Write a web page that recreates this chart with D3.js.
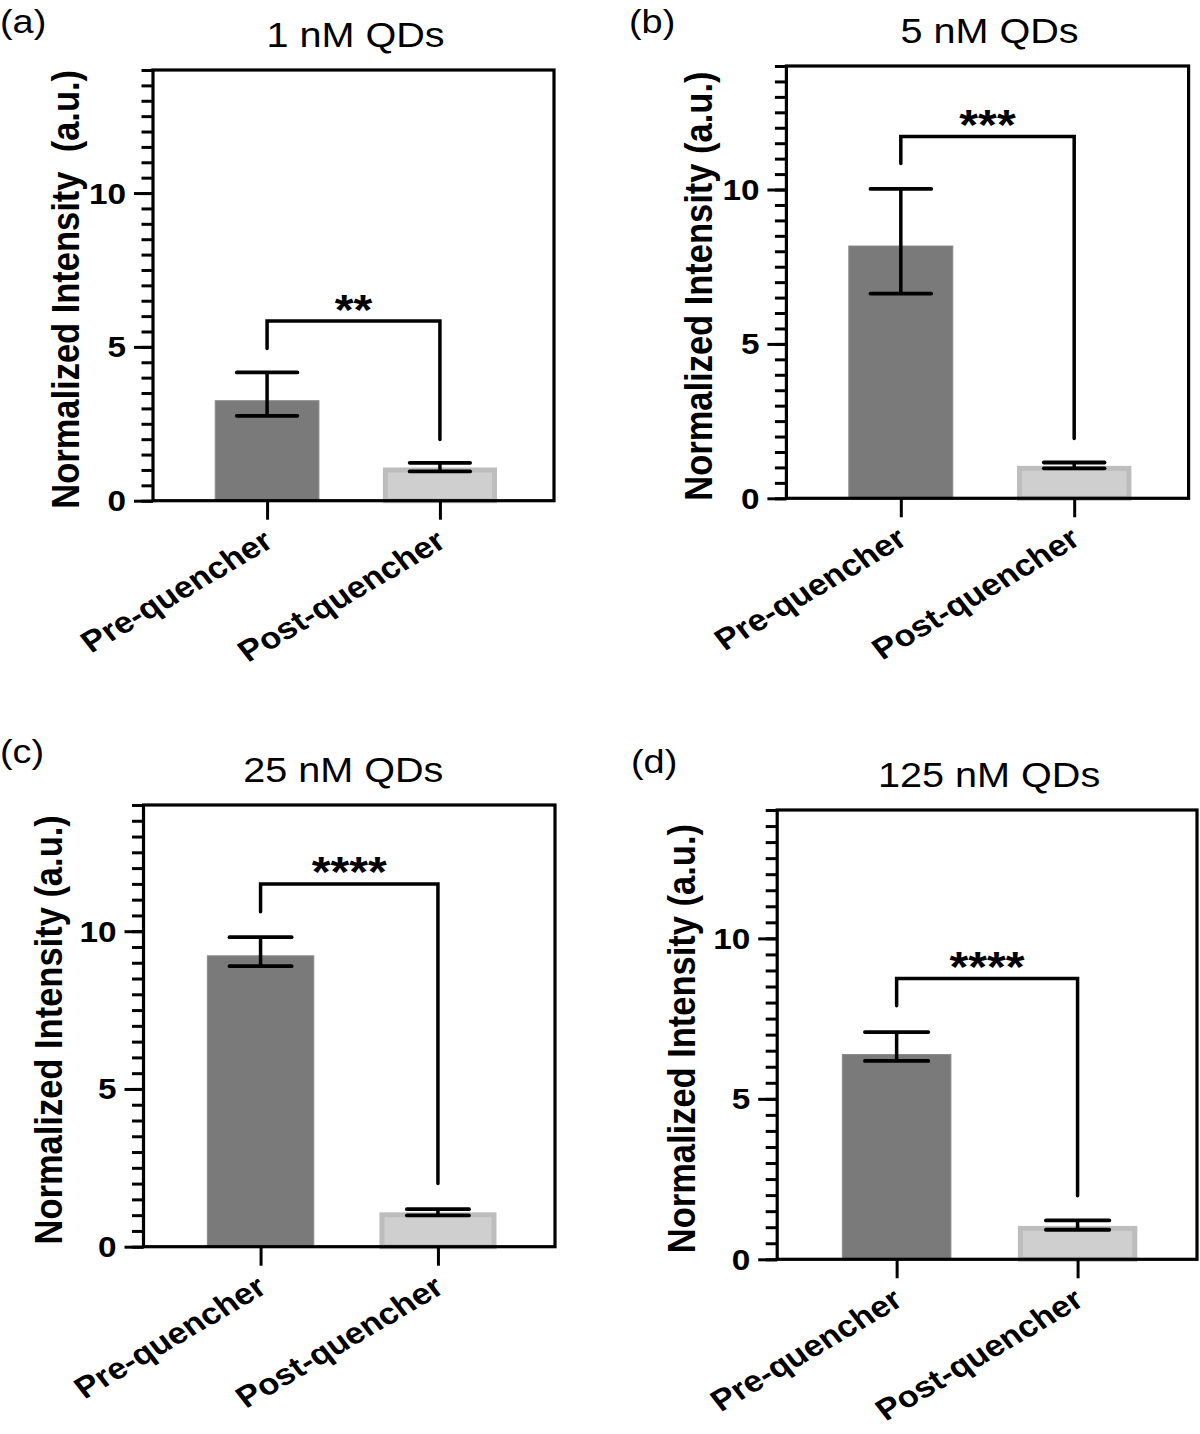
<!DOCTYPE html>
<html><head><meta charset="utf-8">
<script src="https://cdn.jsdelivr.net/npm/d3@7"></script>
<style>
body{margin:0;background:#fff}
svg{display:block}
text{font-family:"Liberation Sans",Arial,Helvetica,sans-serif;fill:#000}
</style>
</head><body>
<svg id="chart" width="1200" height="1434"></svg>
<script>
// ---------------- data ----------------
const panelLetters = ["(a)", "(b)", "(c)", "(d)"];
const panelTitles = ["1 nM QDs", "5 nM QDs", "25 nM QDs", "125 nM QDs"];
const categories = ["Pre-quencher", "Post-quencher"];
const preMean  = [3.25, 8.17, 9.22, 6.38];
const preLow   = [2.76, 6.63, 8.89, 6.18];
const preHigh  = [4.17, 10.02, 9.81, 7.08];
const postMean = [1.08, 1.05, 1.09, 1.04];
const postLow  = [0.95, 0.97, 0.99, 0.92];
const postHigh = [1.23, 1.16, 1.19, 1.21];
const sigLabels = ["**", "***", "****", "****"];
const bracketTop = [5.84, 11.72, 11.5, 8.75];
const bracketLeftEnd = [4.95, 10.84, 10.62, 7.9];
const bracketRightEnd = [1.99, 1.94, 2.0, 1.98];
const yMajorTicks = [0, 5, 10];
const yTickLabels = ["0", "5", "10"];
const yMax = 14;
const yLabels = ["Normalized Intensity  (a.u.)", "Normalized Intensity (a.u.)",
                 "Normalized Intensity (a.u.)", "Normalized Intensity (a.u.)"];

// ---------------- layout ----------------
const layout = [
  {left: 153,   right: 554,    top: 70,  bottom: 500.7,  lx: 0,   ly: 33,  yl: -74, tdx: 2},
  {left: 786.4, right: 1188.6, top: 66,  bottom: 498.3,  lx: 629, ly: 33,  yl: -74, tdx: 2},
  {left: 143.5, right: 555,    top: 805, bottom: 1246.7, lx: 0,   ly: 763, yl: -82, tdx: -6},
  {left: 777.2, right: 1197,   top: 810, bottom: 1259.3, lx: 631, ly: 773, yl: -82, tdx: 2}
];
const SX = 1.148; // horizontal stretch of the original figure's text
const svg = d3.select("#chart");

function stretched(g, x, y, rot) {
  return g.attr("transform", `translate(${x},${y}) scale(${SX},1)` + (rot ? ` rotate(${rot})` : ""));
}

layout.forEach((L, i) => {
  const g = svg.append("g");
  const y = d3.scaleLinear().domain([0, yMax]).range([L.bottom, L.top]);
  const x = d3.scalePoint().domain(categories).range([L.left, L.right]).padding(0.66);
  const step = x.step();

  // bars
  const preW = step * 0.6;
  g.append("rect")
    .attr("x", x(categories[0]) - preW / 2).attr("width", preW)
    .attr("y", y(preMean[i])).attr("height", y(0) - y(preMean[i]))
    .attr("fill", "#7a7a7a").attr("stroke", "#8a8a8a").attr("stroke-width", 1);
  const postW = step * 0.66 - 5;
  g.append("rect")
    .attr("x", x(categories[1]) - postW / 2).attr("width", postW)
    .attr("y", y(postMean[i]) + 2.5).attr("height", y(0) - y(postMean[i]) - 2.5)
    .attr("fill", "#cfcfcf").attr("stroke", "#bdbdbd").attr("stroke-width", 5);

  // minor ticks
  g.append("g").attr("transform", `translate(${L.left},0)`)
    .call(d3.axisLeft(y).tickValues(d3.range(0, yMax + 0.001, 0.5)).tickSize(11.5).tickFormat(""))
    .call(a => a.select(".domain").remove())
    .call(a => a.selectAll("line").attr("stroke", "#000").attr("stroke-width", 3));
  // major ticks
  g.append("g").attr("transform", `translate(${L.left},0)`)
    .call(d3.axisLeft(y).tickValues(yMajorTicks).tickSize(19).tickFormat(""))
    .call(a => a.select(".domain").remove())
    .call(a => a.selectAll("line").attr("stroke", "#000").attr("stroke-width", 3));
  // x ticks
  g.append("g").attr("transform", `translate(0,${L.bottom})`)
    .call(d3.axisBottom(x).tickSize(19).tickFormat(""))
    .call(a => a.select(".domain").remove())
    .call(a => a.selectAll("line").attr("stroke", "#000").attr("stroke-width", 3));

  // frame
  g.append("rect").attr("x", L.left).attr("y", L.top)
    .attr("width", L.right - L.left).attr("height", L.bottom - L.top)
    .attr("fill", "none").attr("stroke", "#000").attr("stroke-width", 3.2);

  // error bars
  const errs = [[categories[0], preLow[i], preHigh[i]], [categories[1], postLow[i], postHigh[i]]];
  const capW = step * 0.35;
  errs.forEach(([c, lo, hi]) => {
    const cx = x(c);
    g.append("line").attr("x1", cx).attr("x2", cx).attr("y1", y(lo)).attr("y2", y(hi))
      .attr("stroke", "#000").attr("stroke-width", 3.5);
    [lo, hi].forEach(v => g.append("line")
      .attr("x1", cx - capW / 2).attr("x2", cx + capW / 2).attr("y1", y(v)).attr("y2", y(v))
      .attr("stroke", "#000").attr("stroke-width", 3.8).attr("stroke-linecap", "round"));
  });

  // significance bracket
  const x0 = x(categories[0]), x1 = x(categories[1]);
  g.append("path")
    .attr("d", `M${x0},${y(bracketLeftEnd[i])}V${y(bracketTop[i])}H${x1}V${y(bracketRightEnd[i])}`)
    .attr("fill", "none").attr("stroke", "#000").attr("stroke-width", 3.5).attr("stroke-linecap", "round");
  stretched(g.append("text"), (x0 + x1) / 2, y(bracketTop[i]) + 2.5)
    .attr("text-anchor", "middle").attr("font-weight", "bold").attr("font-size", 42)
    .text(sigLabels[i]);

  // y tick labels
  yMajorTicks.forEach((v, k) => {
    stretched(g.append("text"), L.left - 27, y(v) + 10.5)
      .attr("text-anchor", "end").attr("font-weight", "bold").attr("font-size", 29)
      .text(yTickLabels[k]);
  });

  // x labels
  categories.forEach(c => {
    stretched(g.append("text"), x(c) + 8, L.bottom + 45, -34)
      .attr("text-anchor", "end").attr("font-weight", "bold").attr("font-size", 30)
      .text(c);
  });

  // y axis title
  stretched(g.append("text"), L.left + L.yl, (L.top + L.bottom) / 2 + 4, -90)
    .attr("text-anchor", "middle").attr("font-weight", "bold").attr("font-size", 34.5)
    .style("white-space", "pre")
    .text(yLabels[i]);

  // title
  stretched(g.append("text"), (L.left + L.right) / 2 + L.tdx, L.top - 23)
    .attr("text-anchor", "middle").attr("font-size", 34.5)
    .text(panelTitles[i]);

  // panel letter
  stretched(g.append("text"), L.lx, L.ly)
    .attr("font-size", 33)
    .text(panelLetters[i]);
});
</script>
</body></html>
